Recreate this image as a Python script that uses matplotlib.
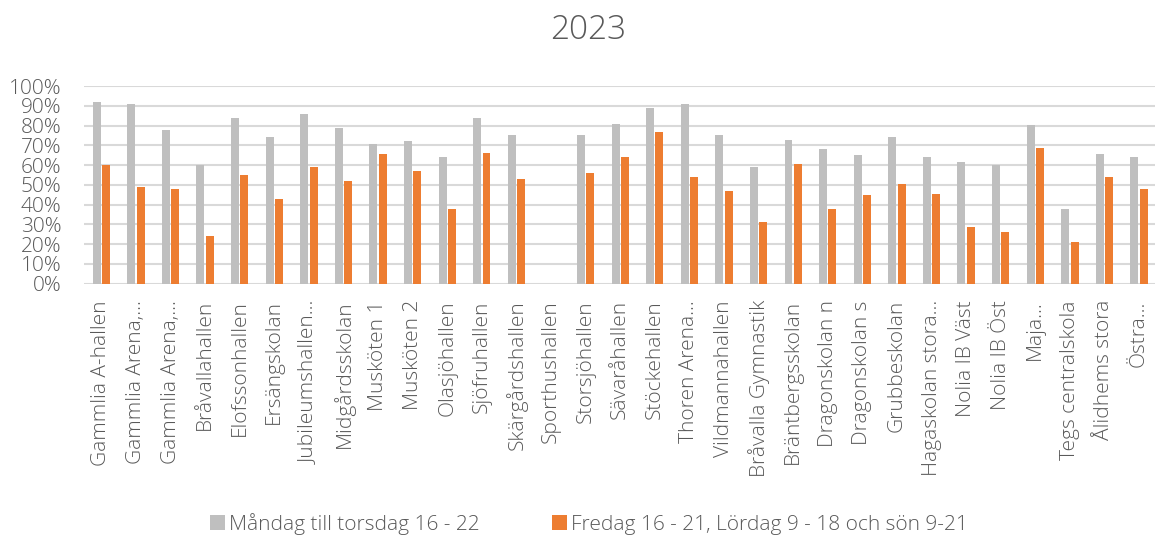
import numpy as np
import matplotlib.pyplot as plt

halls = ["Gammlia A-hallen", "Gammlia Arena,...", "Gammlia Arena,...", "Bråvallahallen",
         "Elofssonhallen", "Ersängskolan", "Jubileumshallen...", "Midgårdsskolan",
         "Musköten 1", "Musköten 2", "Olasjöhallen", "Sjöfruhallen", "Skärgårdshallen",
         "Sporthushallen", "Storsjöhallen", "Sävaråhallen", "Stöckehallen", "Thoren Arena...",
         "Vildmannahallen", "Bråvalla Gymnastik", "Bräntbergsskolan", "Dragonskolan n",
         "Dragonskolan s", "Grubbeskolan", "Hagaskolan stora...", "Nolia IB Väst",
         "Nolia IB Öst", "Maja...", "Tegs centralskola", "Ålidhems stora", "Östra..."]

weekday = [92, 91, 78, 60, 84, 74, 86, 79, 70.5, 72, 64, 84, 75, 0, 75, 81, 89, 91,
           75, 59, 72.5, 68, 65, 74, 64, 61.5, 60, 80.5, 38, 65.7, 64]
weekend = [60, 49, 48, 24, 55, 43, 59, 52, 65.5, 57, 38, 66, 53, 0, 56, 64, 77, 54,
           47, 31, 60.5, 38, 45, 50.5, 45.6, 28.5, 26, 68.5, 21, 54, 48]

weekday = np.array(weekday) / 100
weekend = np.array(weekend) / 100

plt.rcParams['font.family'] = ['Open Sans', 'DejaVu Sans']
plt.rcParams['font.weight'] = 'light'
txt = '#595959'

fig = plt.figure(figsize=(11.55, 5.35), dpi=100)
ax = fig.add_axes([0.0727, 0.47, 0.927, 0.369])

x = np.arange(len(halls))
w = 0.23
ax.bar(x - 0.135, weekday, w, color='#bfbfbf', label='Måndag till torsdag 16 - 22', zorder=3)
ax.bar(x + 0.135, weekend, w, color='#ed7d31', label='Fredag 16 - 21, Lördag 9 - 18 och sön 9-21', zorder=3)

ax.set_ylim(0, 1.0)
ax.set_xlim(-0.502, 30.45)
ax.set_yticks(np.arange(0, 1.01, 0.1))
ax.set_yticklabels([f"{int(round(v * 100))}%" for v in np.arange(0, 1.01, 0.1)])
ax.grid(axis='y', color='#d9d9d9', linewidth=1.5, zorder=0)
for s in ax.spines.values():
    s.set_visible(False)
ax.tick_params(axis='both', length=0, labelsize=15, colors=txt)
ax.tick_params(axis='y', pad=16)
ax.set_xticks(x)
ax.set_xticklabels(halls, rotation=90, va='top', ha='center')
ax.tick_params(axis='x', pad=12)

fig.text(0.509, 0.944, '2023', ha='center', va='center', fontsize=24, color=txt)

fig.legend(loc='lower center', bbox_to_anchor=(0.51, -0.035), ncol=2, frameon=False,
           fontsize=15, labelcolor=txt, handlelength=0.7, handleheight=0.7,
           handletextpad=0.2, columnspacing=3.5)

fig.savefig('out.png', dpi=100)
